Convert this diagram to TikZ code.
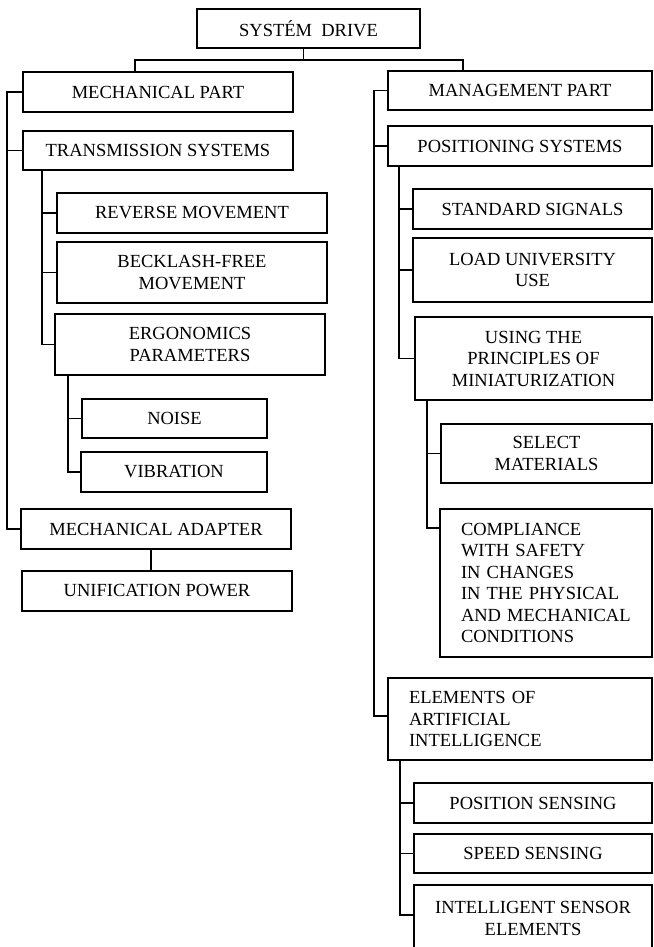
\documentclass[tikz,border=0pt]{standalone}
\usepackage{fontspec}
\setmainfont{Liberation Serif}
\begin{document}
\begin{tikzpicture}[x=1pt,y=-1pt,
  box/.style={draw, line width=1.8pt, inner sep=0pt, align=center,
    font=\fontsize{18.5}{21.5}\selectfont},
  leftbox/.style={box, align=left, inner xsep=21pt},
  link/.style={line width=1.8pt}]
\useasboundingbox (0,0) rectangle (653,947);
\clip (0,0) rectangle (653,947);

% root
\node[box, minimum width=223pt, minimum height=39pt] (top) at (308.5,28.5) {SYSTÉM~~DRIVE};

% mechanical branch
\node[box, minimum width=270pt, minimum height=40pt] (mech)  at (158,92)    {MECHANICAL PART};
\node[box, minimum width=270pt, minimum height=39pt] (trans) at (158,150.5) {TRANSMISSION SYSTEMS};
\node[box, minimum width=270pt, minimum height=40pt] (rev)   at (192,213)   {REVERSE MOVEMENT};
\node[box, minimum width=270pt, minimum height=61pt] (beck)  at (192,272.5) {BECKLASH-FREE\\MOVEMENT};
\node[box, minimum width=270pt, minimum height=61pt] (ergo)  at (190,344.5) {ERGONOMICS\\PARAMETERS};
\node[box, minimum width=185pt, minimum height=39pt] (noise) at (174.5,418.5) {NOISE};
\node[box, minimum width=186pt, minimum height=40pt] (vib)   at (174,472)   {VIBRATION};
\node[box, minimum width=270pt, minimum height=40pt] (adapt) at (156,529)   {MECHANICAL ADAPTER};
\node[box, minimum width=270pt, minimum height=40pt] (unif)  at (157,591)   {UNIFICATION POWER};

% management branch
\node[box, minimum width=264pt, minimum height=39pt] (mgmt)   at (520,90.5)  {MANAGEMENT PART};
\node[box, minimum width=264pt, minimum height=40pt] (pos)    at (520,146)   {POSITIONING SYSTEMS};
\node[box, minimum width=239pt, minimum height=40pt] (std)    at (532.5,209) {STANDARD SIGNALS};
\node[box, minimum width=239pt, minimum height=64pt] (load)   at (532.5,270) {LOAD UNIVERSITY\\USE};
\node[box, minimum width=237pt, minimum height=83pt] (using)  at (533.5,358.5) {USING THE\\PRINCIPLES OF\\MINIATURIZATION};
\node[box, minimum width=211pt, minimum height=59pt] (select) at (546.5,453.5) {SELECT\\MATERIALS};
\node[leftbox, text width=170pt, minimum height=148pt] (compl) at (546,583)
  {COMPLIANCE\\WITH SAFETY\\IN CHANGES\\IN THE PHYSICAL\\AND MECHANICAL\\CONDITIONS};
\node[leftbox, text width=222pt, minimum height=82pt] (elem) at (520,719)
  {ELEMENTS OF\\ARTIFICIAL\\INTELLIGENCE};
\node[box, minimum width=238pt, minimum height=40pt] (possens) at (533,803)   {POSITION SENSING};
\node[box, minimum width=238pt, minimum height=39pt] (speed)   at (533,853.5) {SPEED SENSING};
\node[box, minimum width=238pt, minimum height=67pt] (intel)   at (533,918.5) {INTELLIGENT SENSOR\\ELEMENTS};

% spine positions
\coordinate (sTop) at (303.5,0);
\coordinate (busL) at (135,60);
\coordinate (busR) at (463,60);
\coordinate (sL)   at (7,0);
\coordinate (sT)   at (42,0);
\coordinate (sE)   at (68,0);
\coordinate (sA)   at (151,0);
\coordinate (sR)   at (374,0);
\coordinate (sP)   at (399,0);
\coordinate (sU)   at (427,0);
\coordinate (sEl)  at (400,0);
\coordinate (elemT)  at ([yshift=3pt]elem.west);
\coordinate (complT) at ([yshift=55pt]compl.west);
\coordinate (intelT) at ([yshift=3.5pt]intel.west);

% root to the two parts
\draw[link] (top.south -| sTop) -- (busL -| sTop);
\draw[link] (mech.north -| busL) -- (busL) -- (busR) -- (mgmt.north -| busR);

% mechanical tree
\draw[link] (mech.west) -- (mech.west -| sL) -- (adapt.west -| sL) -- (adapt.west);
\draw[link] (trans.west -| sL) -- (trans.west);
\draw[link] (trans.south -| sT) -- (ergo.west -| sT) -- (ergo.west);
\draw[link] (rev.west -| sT) -- (rev.west);
\draw[link] (beck.west -| sT) -- (beck.west);
\draw[link] (ergo.south -| sE) -- (vib.west -| sE) -- (vib.west);
\draw[link] (noise.west -| sE) -- (noise.west);
\draw[link] (adapt.south -| sA) -- (unif.north -| sA);

% management tree
\draw[link] (mgmt.west) -- (mgmt.west -| sR) -- (elemT -| sR) -- (elemT);
\draw[link] (pos.west -| sR) -- (pos.west);
\draw[link] (pos.south -| sP) -- (using.west -| sP) -- (using.west);
\draw[link] (std.west -| sP) -- (std.west);
\draw[link] (load.west -| sP) -- (load.west);
\draw[link] (using.south -| sU) -- (complT -| sU) -- (complT);
\draw[link] (select.west -| sU) -- (select.west);
\draw[link] (elem.south -| sEl) -- (intelT -| sEl) -- (intelT);
\draw[link] (possens.west -| sEl) -- (possens.west);
\draw[link] (speed.west -| sEl) -- (speed.west);
\end{tikzpicture}
\end{document}
